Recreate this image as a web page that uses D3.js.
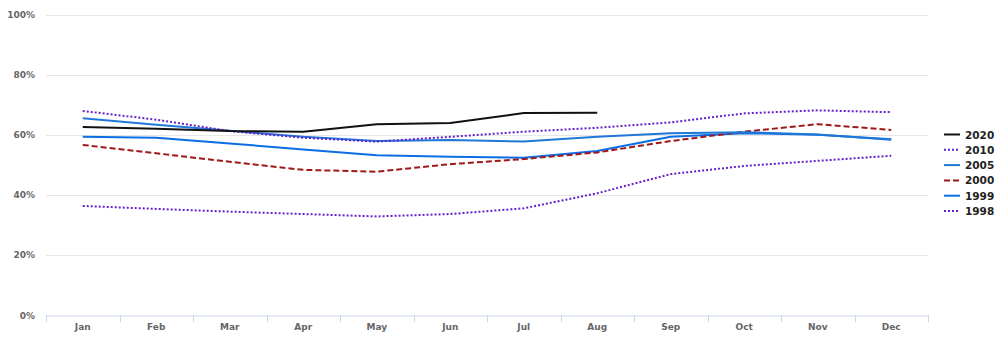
<!DOCTYPE html>
<html><head><meta charset="utf-8">
<script src="https://cdn.jsdelivr.net/npm/d3@7"></script>
<style>body{margin:0;background:#fff;}svg{display:block;font-family:"DejaVu Sans",sans-serif;}</style>
</head><body>
<svg id="chart" width="1000" height="348"></svg>
<script>
const months = ["Jan","Feb","Mar","Apr","May","Jun","Jul","Aug","Sep","Oct","Nov","Dec"];
const yTicks = [0,20,40,60,80,100];
const seriesNames = ["2020","2010","2005","2000","1999","1998"];
const v2020 = [62.6,62.0,61.2,61.0,63.5,63.9,67.2,67.3];
const v2010 = [67.9,65.0,61.2,59.0,57.7,59.3,61.0,62.3,64.1,67.1,68.1,67.5];
const v2005 = [65.5,63.3,61.3,59.3,57.9,58.2,57.7,59.3,60.5,60.8,60.1,58.3];
const v2000 = [56.6,53.8,51.0,48.3,47.7,50.2,51.9,54.1,57.9,61.0,63.5,61.6];
const v1999 = [59.3,59.0,57.1,55.1,53.2,52.7,52.3,54.6,59.3,60.5,60.0,58.5];
const v1998 = [36.3,35.3,34.4,33.6,32.8,33.6,35.5,40.5,46.9,49.6,51.3,53.0];
const colors = ["#111111","#6620c8","#1f78d8","#a01818","#0b6ee6","#6620c8"];
const dashes = ["none","2,2","none","6,3","none","2,2"];

(function(){
const seriesData = [v2020,v2010,v2005,v2000,v1999,v1998];
const svg = d3.select("#chart");
const pL = 46, pR = 928, pT = 14.5, pB = 315;
const x = d3.scaleBand().domain(months).range([pL,pR]);
const y = d3.scaleLinear().domain([0,100]).range([pB,pT]);

svg.append("g").selectAll("line").data(yTicks.filter(d=>d>0)).join("line")
  .attr("x1",pL).attr("x2",pR).attr("y1",d=>Math.round(y(d))+0.5).attr("y2",d=>Math.round(y(d))+0.5)
  .attr("stroke","#e6e6e6").attr("stroke-width",1);

svg.append("g").selectAll("text").data(yTicks).join("text")
  .attr("x",35).attr("y",d=>y(d)+3.5).attr("text-anchor","end")
  .attr("font-size",9).attr("font-weight","bold").attr("fill","#666")
  .text(d=>d+"%");

const xAxis = d3.axisBottom(x).tickSize(0).tickPadding(8);
const xg = svg.append("g").attr("transform",`translate(0,${pB+0.5})`).call(xAxis);
xg.select(".domain").attr("stroke","#ccd6eb");
xg.selectAll("text").attr("font-size",9).attr("font-weight","bold").attr("fill","#666").attr("font-family","DejaVu Sans");
const bounds = months.map(m=>x(m)).concat([pR]);
svg.append("g").selectAll("line").data(bounds).join("line")
  .attr("x1",d=>Math.round(d)+0.5).attr("x2",d=>Math.round(d)+0.5)
  .attr("y1",pB).attr("y2",pB+7).attr("stroke","#ccd6eb");

const line = d3.line().x((d,i)=>x(months[i])+x.bandwidth()/2).y(d=>y(d));
for (let k=seriesData.length-1;k>=0;k--){
  svg.append("path").datum(seriesData[k]).attr("d",line)
    .attr("fill","none").attr("stroke",colors[k]).attr("stroke-width",2)
    .attr("stroke-dasharray",dashes[k]).attr("stroke-linejoin","round");
}

const lg = svg.append("g").selectAll("g").data(seriesNames).join("g")
  .attr("transform",(d,i)=>`translate(944,${134.5+i*15.3})`);
lg.append("line").attr("x1",0).attr("x2",16).attr("y1",0).attr("y2",0)
  .attr("stroke",(d,i)=>colors[i]).attr("stroke-width",2).attr("stroke-dasharray",(d,i)=>dashes[i]);
lg.append("text").attr("x",21).attr("y",4).attr("font-size",10.5).attr("font-weight","bold").attr("fill","#222")
  .text(d=>d);
})();
</script>
</body></html>
